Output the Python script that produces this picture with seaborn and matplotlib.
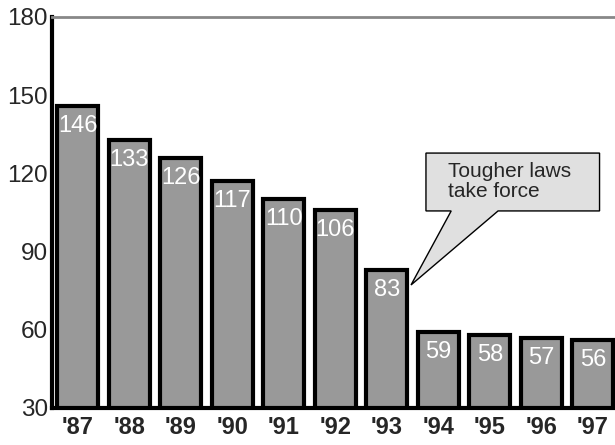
import matplotlib
matplotlib.use("Agg")
import matplotlib.pyplot as plt
import seaborn as sns
import pandas as pd
from matplotlib.patches import Polygon

years = ["'87", "'88", "'89", "'90", "'91", "'92", "'93", "'94", "'95", "'96", "'97"]
values = [146, 133, 126, 117, 110, 106, 83, 59, 58, 57, 56]
yticks = [30, 60, 90, 120, 150, 180]
callout_text = "Tougher laws\ntake force"

sns.set_style("white")
plt.rcParams['font.family'] = ['Liberation Sans', 'DejaVu Sans']

df = pd.DataFrame({"year": years, "value": values})

fig = plt.figure(figsize=(6.15, 4.45), dpi=100)
ax = fig.add_axes([52/615, 37/445, 1 - 52/615, (408-17)/445])

sns.barplot(data=df, x="year", y="value", color="#999999", width=0.8,
            edgecolor="black", linewidth=3, saturation=1, ax=ax, zorder=2)

for i, v in enumerate(values):
    ax.annotate(str(v), (i, v), xytext=(0, -6.5), textcoords="offset points",
                ha="center", va="top", color="white", fontsize=17, zorder=3)

ax.set_ylim(30, 180)
ax.set_xlim(-0.5, 10.43)
ax.set_yticks(yticks)
ax.set_yticklabels([str(t) for t in yticks], fontsize=17.5)
ax.set_xticklabels(years, fontsize=17, fontweight="bold")
ax.set_xlabel("")
ax.set_ylabel("")
ax.tick_params(axis="both", length=0, pad=3)
ax.tick_params(axis="x", pad=6)

for s in ["left", "bottom"]:
    ax.spines[s].set_color("black")
    ax.spines[s].set_linewidth(3)
ax.spines["top"].set_color("#888888")
ax.spines["top"].set_linewidth(2)
ax.spines["right"].set_visible(False)

# callout
poly = Polygon([(6.76, 127.8), (10.13, 127.8), (10.13, 105.6), (8.16, 105.6),
                (6.47, 77.2), (7.25, 105.6), (6.76, 105.6)], closed=True,
               facecolor="#e0e0e0", edgecolor="black", linewidth=1, zorder=4)
ax.add_patch(poly)
ax.text(7.18, 117.0, callout_text, ha="left", va="center", fontsize=15,
        linespacing=1.05, zorder=5)

fig.savefig("out.png", dpi=100)
